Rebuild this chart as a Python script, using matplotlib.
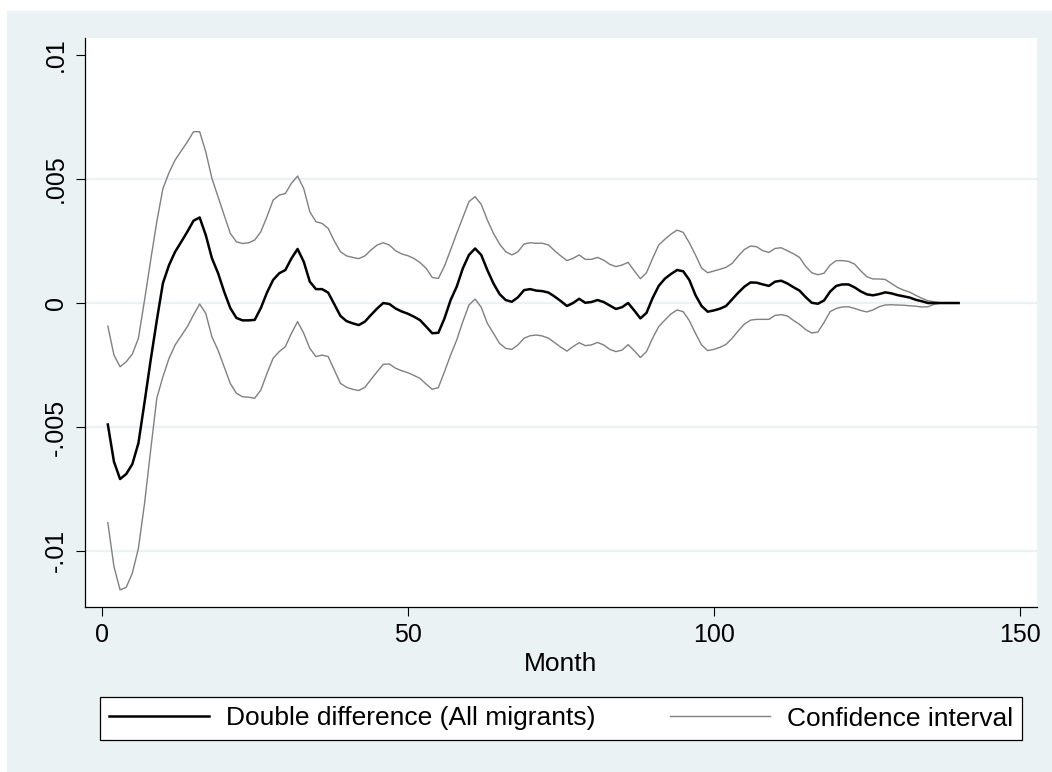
import numpy as np
import matplotlib
matplotlib.use('Agg')
import matplotlib.pyplot as plt
from matplotlib.patches import Rectangle

plt.rcParams['font.family'] = ['Liberation Sans', 'DejaVu Sans']

# Data (months 1..140)
months = list(range(1, 141))

double_diff = [
    -0.0049, -0.0064, -0.0071, -0.0069, -0.0065, -0.00565, -0.0040, -0.0023, -0.0007, 0.0008,
    0.00153, 0.00207, 0.00247, 0.00288, 0.00332, 0.00345, 0.00274, 0.00181, 0.00121, 0.00046,
    -0.0002, -0.0006, -0.0007, -0.0007, -0.00068, -0.0002, 0.00042, 0.00093, 0.0012, 0.00133,
    0.0018, 0.00218, 0.00167, 0.00086, 0.00056, 0.00056, 0.00042, -0.00005, -0.00052, -0.00073,
    -0.00082, -0.00089, -0.00075, -0.00048, -0.00022, 0.0, -0.00004, -0.00022, -0.00034, -0.00043,
    -0.00055, -0.00069, -0.00095, -0.00122, -0.0012, -0.00062, 0.00012, 0.00066, 0.0014, 0.00194,
    0.0022, 0.00194, 0.00133, 0.00079, 0.00036, 0.00012, 0.00005, 0.00023, 0.00052, 0.00056,
    0.0005, 0.00048, 0.00042, 0.00026, 0.00008, -0.00012, 0.0, 0.00017, 0.00001, 0.00004,
    0.00012, 0.00004, -0.0001, -0.00024, -0.00017, 0.0, -0.0003, -0.00062, -0.0004, 0.0002,
    0.00069, 0.00098, 0.00117, 0.00133, 0.00128, 0.00093, 0.00032, -0.00012, -0.00035, -0.0003,
    -0.00023, -0.00012, 0.00015, 0.00042, 0.00066, 0.00083, 0.00082, 0.00075, 0.00069, 0.00086,
    0.0009, 0.00079, 0.00064, 0.0005, 0.00024, 0.00001, -0.00003, 0.0001, 0.00046, 0.00069,
    0.00075, 0.00075, 0.00063, 0.00047, 0.00035, 0.00031, 0.00036, 0.00043, 0.00039, 0.00032,
    0.00027, 0.00022, 0.00013, 0.00007, 0.0, 0.0, 0.0, 0.0, 0.0, 0.0,
]

ci_upper = [
    -0.00093, -0.0021, -0.00257, -0.00237, -0.00206, -0.00142, 0.00012, 0.00173, 0.00328, 0.00462,
    0.00526, 0.00577, 0.00614, 0.0065, 0.00691, 0.00691, 0.0061, 0.00503, 0.00429, 0.00355,
    0.00281, 0.00247, 0.0024, 0.00243, 0.00254, 0.00288, 0.00348, 0.00415, 0.00435, 0.00442,
    0.00483, 0.00512, 0.00462, 0.00368, 0.00328, 0.00321, 0.00301, 0.0025, 0.00207, 0.0019,
    0.00184, 0.00179, 0.0019, 0.00214, 0.00234, 0.00243, 0.00234, 0.00211, 0.00198, 0.00191,
    0.0018, 0.00163, 0.0014, 0.00103, 0.00099, 0.00149, 0.00214, 0.00281, 0.00345, 0.00409,
    0.00429, 0.00398, 0.00335, 0.00281, 0.00238, 0.00207, 0.00194, 0.00207, 0.00238, 0.00243,
    0.00241, 0.00241, 0.00234, 0.00211, 0.0019, 0.00171, 0.0018, 0.00194, 0.00176, 0.00176,
    0.00184, 0.00173, 0.00156, 0.00147, 0.00153, 0.00164, 0.0013, 0.00098, 0.00122, 0.0018,
    0.00234, 0.00257, 0.00278, 0.00294, 0.00285, 0.00243, 0.00194, 0.00141, 0.00122, 0.00129,
    0.00136, 0.00144, 0.0016, 0.0019, 0.00216, 0.0023, 0.00227, 0.00211, 0.00204, 0.0022,
    0.00223, 0.00211, 0.00199, 0.00184, 0.00148, 0.00122, 0.00114, 0.0012, 0.00153, 0.00171,
    0.00171, 0.00168, 0.00157, 0.0013, 0.00106, 0.00097, 0.00097, 0.00095, 0.00079, 0.00063,
    0.00052, 0.00044, 0.00031, 0.00019, 0.00009, 0.00005, 0.00001, 0.0, 0.0, 0.0,
]

ci_lower = [
    -0.00886, -0.01063, -0.01157, -0.01147, -0.0109, -0.00989, -0.00808, -0.00593, -0.00384, -0.00297,
    -0.00223, -0.00169, -0.00132, -0.00095, -0.00048, -0.00004, -0.00042, -0.00136, -0.0019, -0.00257,
    -0.00324, -0.00364, -0.00378, -0.0038, -0.00384, -0.00351, -0.00284, -0.00223, -0.00196, -0.00176,
    -0.00122, -0.00075, -0.00122, -0.00183, -0.00216, -0.0021, -0.00216, -0.0027, -0.00324, -0.0034,
    -0.00348, -0.00353, -0.0034, -0.00308, -0.00277, -0.00247, -0.00246, -0.00263, -0.00273, -0.00281,
    -0.00292, -0.00304, -0.00327, -0.00348, -0.00341, -0.00277, -0.0021, -0.00149, -0.00075, -0.00008,
    0.00016, -0.00017, -0.00082, -0.00122, -0.00163, -0.00183, -0.00187, -0.00169, -0.00142, -0.00132,
    -0.00129, -0.00133, -0.00142, -0.0016, -0.00178, -0.00194, -0.00176, -0.0016, -0.00172, -0.00169,
    -0.00159, -0.00169, -0.00187, -0.00196, -0.0019, -0.00168, -0.00192, -0.0022, -0.00196, -0.00142,
    -0.00095, -0.00069, -0.00044, -0.00028, -0.00035, -0.00071, -0.00122, -0.00169, -0.00192, -0.00187,
    -0.00179, -0.00167, -0.00142, -0.00112, -0.00085, -0.00069, -0.00066, -0.00066, -0.00066, -0.0005,
    -0.00047, -0.00052, -0.0007, -0.00086, -0.00107, -0.00121, -0.00117, -0.00079, -0.00035, -0.00022,
    -0.00016, -0.00015, -0.00022, -0.0003, -0.00036, -0.00028, -0.00015, -0.00008, -0.00007, -0.00008,
    -0.00009, -0.00011, -0.00013, -0.00016, -0.00015, -0.00005, -0.00001, 0.0, 0.0, 0.0,
]

x_ticks = [0, 50, 100, 150]
y_ticks = [-0.01, -0.005, 0, 0.005, 0.01]
y_tick_labels = ['-.01', '-.005', '0', '.005', '.01']
grid_vals = [-0.01, -0.005, 0, 0.005]   # Stata skips the top one

BG = '#eaf2f3'
CI_COLOR = '#808080'

W, H = 1052, 772
fig = plt.figure(figsize=(W / 100, H / 100), dpi=100, facecolor='white')
# Stata-style graph region
fig.patches.append(Rectangle((7 / W, 0), 1 - 7 / W, 1 - 11 / H,
                             transform=fig.transFigure, facecolor=BG,
                             edgecolor='none', zorder=-10))

ax = fig.add_axes([85 / W, 1 - 606.7 / H, (1037 - 85) / W, (606.7 - 38) / H])
ax.set_facecolor('white')

ax.hlines(grid_vals, -10, 200, colors=BG, linewidth=1.6, zorder=0)

ax.plot(months, double_diff, color='black', linewidth=1.8, label='Double difference (All migrants)', zorder=3)
ax.plot(months, ci_upper, color=CI_COLOR, linewidth=1.0, label='Confidence interval', zorder=2)
ax.plot(months, ci_lower, color=CI_COLOR, linewidth=1.0, zorder=2)

ax.set_xlim(-2.73, 152.8)
ax.set_ylim(-0.01225, 0.01069)

ax.set_xticks(x_ticks)
ax.set_xticklabels([str(t) for t in x_ticks])
ax.set_yticks(y_ticks)
ax.set_yticklabels(y_tick_labels, rotation=90, va='center')

ax.tick_params(axis='both', length=6.5, width=0.8, color='black', labelsize=18)
ax.tick_params(axis='x', pad=5)
ax.tick_params(axis='y', pad=6)

for side in ['top', 'right']:
    ax.spines[side].set_visible(False)
for side in ['left', 'bottom']:
    ax.spines[side].set_linewidth(0.9)
    ax.spines[side].set_color('black')

ax.set_xlabel('Month', fontsize=19, labelpad=4)

leg = fig.legend(loc='center', ncol=2, mode='expand',
                 bbox_to_anchor=(100 / W, 1 - 742.7 / H, 922 / W, 48.4 / H),
                 borderaxespad=0, fontsize=19, handlelength=3.78,
                 handletextpad=0.64, columnspacing=2.2, borderpad=0.35,
                 fancybox=False, framealpha=1, edgecolor='black')
leg.get_frame().set_linewidth(0.9)

plt.savefig('out.png', dpi=100, facecolor=fig.get_facecolor())
